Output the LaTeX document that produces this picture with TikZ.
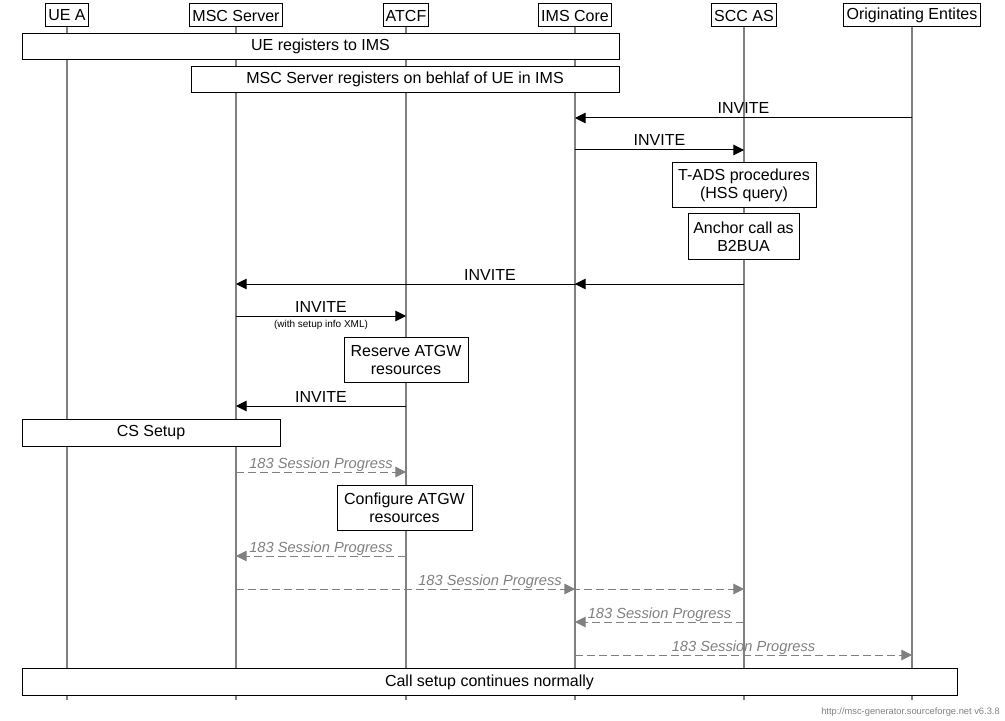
\documentclass[tikz,border=0pt]{standalone}
\usepackage{fontspec}
\setmainfont{Liberation Sans}
\usetikzlibrary{arrows.meta}

\begin{document}
\begin{tikzpicture}[
  x=0.75pt, y=-0.75pt,
  ent/.style={draw, fill=white, line width=0.75pt, inner xsep=2pt, inner ysep=0pt,
              minimum height=17.25pt, font=\fontsize{12}{13.5}\selectfont},
  bar/.style={draw, fill=white, line width=0.75pt, inner sep=0pt, align=center,
              minimum height=20pt, font=\fontsize{12}{13.5}\selectfont},
  act/.style={bar, minimum height=33.75pt},
  life/.style={draw=gray, line width=1.5pt},
  msg/.style={-{Triangle[length=8pt, width=8pt]}, line width=0.75pt},
  prog/.style={msg, draw=gray, dash pattern=on 6pt off 3pt},
  lbl/.style={midway, anchor=base, yshift=3pt, inner sep=0pt,
              font=\fontsize{12}{13.5}\selectfont},
  plbl/.style={lbl, text=gray, font=\fontsize{11}{13}\selectfont\itshape},
  sublbl/.style={midway, anchor=base, yshift=-8.5pt, inner sep=0pt,
                 font=\fontsize{7.5}{9}\selectfont},
]
  \useasboundingbox (0,0) rectangle (1005,720);

  % ---- Entities (header row) ----
  \node[ent] (uea)  at (67,15.5)  {UE A};
  \node[ent] (msc)  at (236,15.5) {MSC Server};
  \node[ent] (atcf) at (406,15.5) {ATCF};
  \node[ent] (ims)  at (575,15.5) {IMS Core};
  \node[ent] (scc)  at (744,15.5) {SCC AS};
  \node[ent] (orig) at (912,15.5) {Originating Entites};

  % ---- Message rows ----
  \coordinate (r1)  at (0,118);
  \coordinate (r2)  at (0,150);
  \coordinate (r3)  at (0,284);
  \coordinate (r4)  at (0,316);
  \coordinate (r5)  at (0,406);
  \coordinate (r6)  at (0,472);
  \coordinate (r7)  at (0,556);
  \coordinate (r8)  at (0,589);
  \coordinate (r9)  at (0,622);
  \coordinate (r10) at (0,655);
  \coordinate (bot) at (0,700);

  % ==== LIFELINES ====
  \foreach \e in {uea, msc, atcf, ims, scc, orig}
    \draw[life] (\e.south) -- (\e.south |- bot);

  % ==== BOXES (opaque, over the lifelines) ====
  \node[bar, minimum width=447.75pt] (imsreg) at (320.5,46.5) {UE registers to IMS};
  \node[bar, minimum width=321pt]    (mscreg) at (405,79.5)   {MSC Server registers on behlaf of UE in IMS};
  \node[act, minimum width=108pt]    (tads)   at (744,185.5)  {T-ADS procedures\\(HSS query)};
  \node[act, minimum width=83.25pt]  (b2bua)  at (743.5,236.5) {Anchor call as\\B2BUA};
  \node[act, minimum width=93pt]     (rsv)    at (406,359.5)  {Reserve ATGW\\resources};
  \node[bar, minimum width=193.5pt]  (cs)     at (151,433)    {CS Setup};
  \node[act, minimum width=101.25pt] (cfg)    at (404.5,508)  {Configure ATGW\\resources};
  \node[bar, minimum width=701.25pt] (cont)   at (489.5,682)  {Call setup continues normally};

  % ==== INVITE PATH ====
  \draw[msg] (orig |- r1) -- node[lbl] {INVITE} (ims |- r1);      % orig -> IMS core
  \draw[msg] (ims |- r2)  -- node[lbl] {INVITE} (scc |- r2);      % IMS core -> SCC AS
  \draw[msg] (scc |- r3)  -- node[lbl] {INVITE} (msc |- r3);      % SCC AS -> MSC (via IMS)
  \draw[msg] (scc |- r3)  -- (ims |- r3);
  \draw[msg] (msc |- r4)  -- node[lbl] {INVITE}
                             node[sublbl] {(with setup info XML)} (atcf |- r4);
  \draw[msg] (atcf |- r5) -- node[lbl] {INVITE} (msc |- r5);      % ATCF -> MSC

  % ==== 183 SESSION PROGRESS (dashed, grey) ====
  \draw[prog] (msc |- r6)  -- node[plbl] {183 Session Progress} (atcf |- r6);
  \draw[prog] (atcf |- r7) -- node[plbl] {183 Session Progress} (msc |- r7);
  \draw[prog] (msc |- r8)  -- node[plbl] {183 Session Progress} (scc |- r8);
  \draw[prog] (msc |- r8)  -- (ims |- r8);
  \draw[prog] (scc |- r9)  -- node[plbl] {183 Session Progress} (ims |- r9);
  \draw[prog] (ims |- r10) -- node[plbl] {183 Session Progress} (orig |- r10);

  % footer
  \node[font=\fontsize{7}{8}\selectfont, text=gray, anchor=east, inner sep=0pt]
    (credit) at (1000,712) {http://msc-generator.sourceforge.net v6.3.8};
\end{tikzpicture}
\end{document}
